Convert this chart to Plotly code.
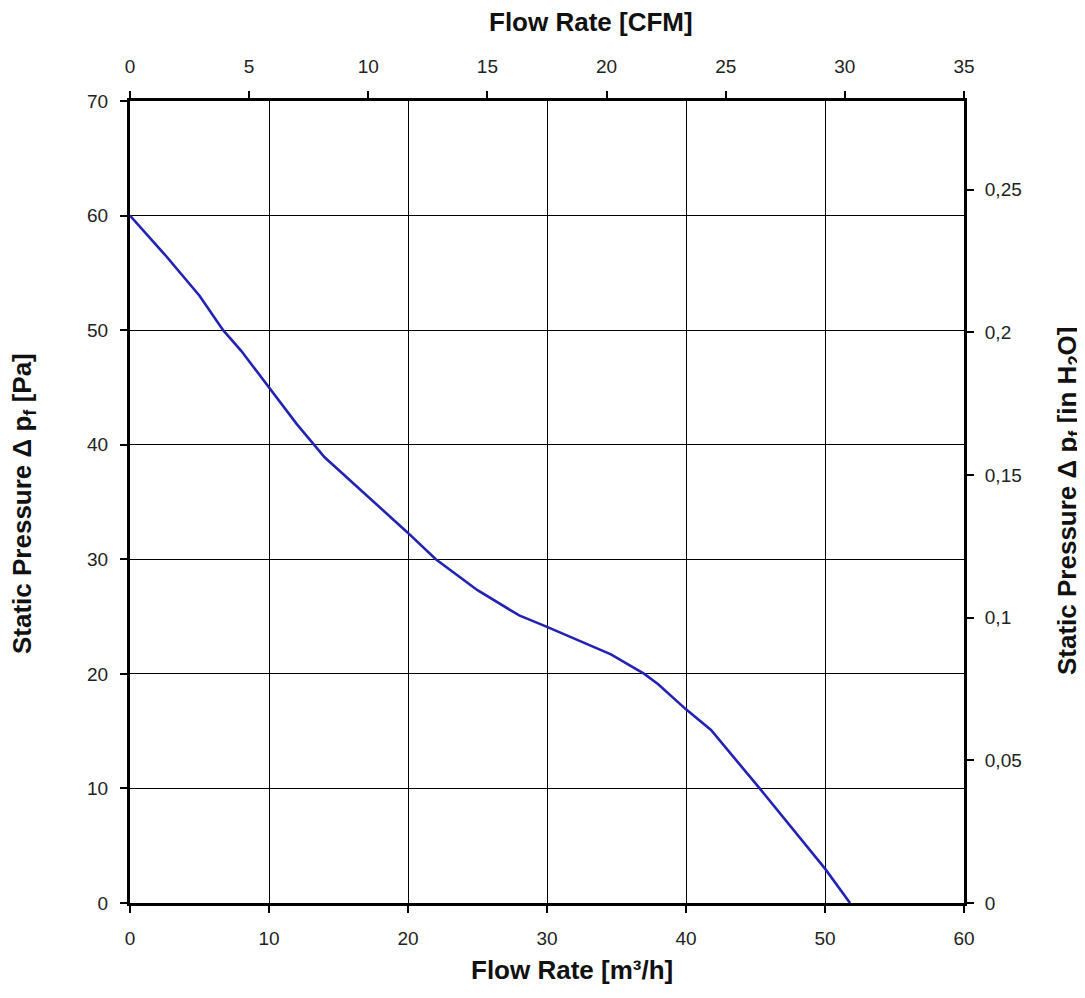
import plotly.graph_objects as go

# Data
flow_m3h = [0, 2.5, 5, 6.7, 8, 10, 12, 14, 17, 20, 22, 25, 28, 30, 34.6, 37, 38, 40, 41.8, 45.3, 50, 51.8]
pressure_pa = [60, 56.6, 53, 50, 48.2, 45.0, 41.8, 38.9, 35.6, 32.3, 30.0, 27.3, 25.1, 24.1, 21.7, 20.0, 19.1, 16.9, 15.1, 10.0, 3.0, 0.0]

x_ticks = [0, 10, 20, 30, 40, 50, 60]
y_ticks = [0, 10, 20, 30, 40, 50, 60, 70]
cfm_ticks = [0, 5, 10, 15, 20, 25, 30, 35]
inh2o_ticks = [0, 0.05, 0.1, 0.15, 0.2, 0.25]
inh2o_labels = ["0", "0,05", "0,1", "0,15", "0,2", "0,25"]
PA_PER_INH2O = 249.089

TICK_FONT = dict(family="Liberation Sans, Arial", size=19, color="#222222")
TITLE_FONT = dict(family="Liberation Sans, Arial", size=26, color="#111111")

# page offset (default body margin of the html page)
OFF = 8
W, H = 1085, 998
PL, PR, PT, PB = 130, 964, 101, 903  # plot-area edges in page pixels

fig = go.Figure()
fig.add_trace(go.Scatter(
    x=flow_m3h, y=pressure_pa, mode="lines",
    line=dict(color="#2222b4", width=2.6),
    xaxis="x", yaxis="y", showlegend=False, hoverinfo="x+y",
))
# invisible helper trace so secondary axes are drawn
fig.add_trace(go.Scatter(
    x=[0, 35], y=[0, 70 / PA_PER_INH2O], mode="lines",
    line=dict(color="rgba(0,0,0,0)", width=0),
    xaxis="x2", yaxis="y2", showlegend=False, hoverinfo="skip",
))

common = dict(showline=True, linecolor="black", linewidth=3, ticks="outside",
              ticklen=7, tickwidth=2, tickcolor="black", tickfont=TICK_FONT,
              zeroline=False)

fig.update_layout(
    width=W, height=H,
    margin=dict(l=PL - OFF, r=W - (PR - OFF), t=PT - OFF, b=H - (PB - OFF)),
    paper_bgcolor="white", plot_bgcolor="white",
    xaxis=dict(range=[0, 60], tickvals=x_ticks, showgrid=True, gridcolor="black",
               gridwidth=1, ticklabelstandoff=9, **common),
    yaxis=dict(range=[0, 70], tickvals=y_ticks, showgrid=True, gridcolor="black",
               gridwidth=1, ticklabelstandoff=8, **common),
    xaxis2=dict(range=[0, 35], tickvals=cfm_ticks, overlaying="x", side="top",
                anchor="y", showgrid=False, ticklabelstandoff=10, **common),
    yaxis2=dict(range=[0, 70 / PA_PER_INH2O], tickvals=inh2o_ticks, ticktext=inh2o_labels,
                overlaying="y", side="right", anchor="x", showgrid=False,
                ticklabelstandoff=7, **common),
)

# titles placed at page-pixel positions (converted to paper coordinates)
pw = PR - PL
ph = PB - PT


def px2paper(x, y):
    return (x - PL) / pw, (PB - y) / ph


titles = [
    ("<b>Flow Rate [m³/h]</b>", 572, 970, 0),
    ("<b>Flow Rate [CFM]</b>", 591, 22, 0),
    ("<b>Static Pressure Δ p<sub>f</sub> [Pa]</b>", 24, 504, -90),
    ("<b>Static Pressure Δ p<sub>f</sub> [in H<sub>2</sub>O]</b>", 1068, 501, -90),
]
for text, x, y, ang in titles:
    px, py = px2paper(x, y)
    fig.add_annotation(text=text, x=px, y=py, xref="paper", yref="paper",
                       xanchor="center", yanchor="middle", showarrow=False,
                       textangle=ang, font=TITLE_FONT)

fig.write_html("out.html")
